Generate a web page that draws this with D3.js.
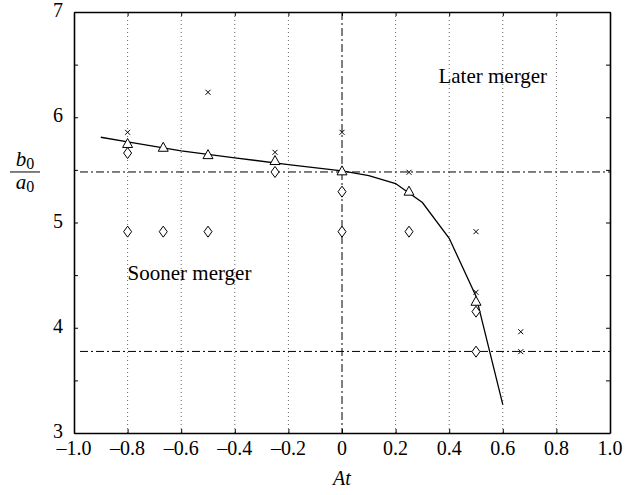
<!DOCTYPE html>
<html>
<head>
<meta charset="utf-8">
<script src="https://cdn.jsdelivr.net/npm/d3@7"></script>
<style>
  html, body { margin: 0; padding: 0; background: #fff; }
  svg { display: block; }
  svg text { font-family: "Liberation Serif", "Times New Roman", serif; fill: #000; }
</style>
</head>
<body>
<svg id="chart" width="628" height="495"></svg>
<script>
// Fitted merger boundary (solid curve)
const curveAt    = [-0.9, -0.8, -0.6, -0.4, -0.2, 0, 0.1, 0.2, 0.3, 0.4, 0.5, 0.6];
const curveRatio = [5.81, 5.765, 5.68, 5.615, 5.55, 5.49, 5.445, 5.37, 5.19, 4.85, 4.30, 3.27];

// Cross markers
const crossAt    = [-0.8, -0.5, -0.25, 0, 0.25, 0.5, 0.5, 0.667, 0.667];
const crossRatio = [5.857, 6.237, 5.667, 5.857, 5.477, 4.913, 4.337, 3.962, 3.773];

// Triangle markers
const triAt    = [-0.8, -0.667, -0.5, -0.25, 0, 0.25, 0.5];
const triRatio = [5.746, 5.71, 5.64, 5.584, 5.486, 5.293, 4.247];

// Diamond markers
const diaAt    = [-0.8, -0.8, -0.667, -0.5, -0.25, 0, 0, 0.25, 0.5, 0.5];
const diaRatio = [5.66, 4.913, 4.913, 4.913, 5.48, 5.293, 4.913, 4.913, 4.153, 3.773];

// Reference levels
const refRatios = [5.48, 3.775];
const refAt = [0];

// Axis ticks
const xTicks = [-1.0, -0.8, -0.6, -0.4, -0.2, 0, 0.2, 0.4, 0.6, 0.8, 1.0];
const xTickLabels = ["\u20131.0", "\u20130.8", "\u20130.6", "\u20130.4", "\u20130.2", "0", "0.2", "0.4", "0.6", "0.8", "1.0"];
const yTicks = [3, 3.5, 4, 4.5, 5, 5.5, 6, 6.5, 7];
const yTickLabels = ["3", "4", "5", "6", "7"];
const yLabelValues = [3, 4, 5, 6, 7];

const svg = d3.select("#chart");
const plotL = 74, plotR = 610, plotT = 12, plotB = 433;

const x = d3.scaleLinear().domain([-1, 1]).range([plotL, plotR]);
const y = d3.scaleLinear().domain([3, 7]).range([plotB, plotT]);

// Dotted vertical grid
const gridVals = xTicks.filter(v => v > -1 && v < 1 && v !== 0);
svg.append("g").selectAll("line").data(gridVals).join("line")
  .attr("x1", d => x(d)).attr("x2", d => x(d))
  .attr("y1", plotT).attr("y2", plotB)
  .attr("stroke", "#666").attr("stroke-width", 1)
  .attr("stroke-dasharray", "1,3");

// Dash-dot reference lines
const dashDot = "8,3,2,3";
svg.append("g").selectAll("line").data(refRatios).join("line")
  .attr("x1", plotL + 6).attr("x2", plotR)
  .attr("y1", d => y(d)).attr("y2", d => y(d))
  .attr("stroke", "#000").attr("stroke-width", 1)
  .attr("stroke-dasharray", dashDot);
svg.append("g").selectAll("line").data(refAt).join("line")
  .attr("x1", d => x(d)).attr("x2", d => x(d))
  .attr("y1", plotT).attr("y2", plotB)
  .attr("stroke", "#000").attr("stroke-width", 1)
  .attr("stroke-dasharray", dashDot);

// Axes with inward ticks
const xAxisB = d3.axisBottom(x).tickValues(xTicks).tickSizeInner(-4).tickSizeOuter(0).tickFormat("");
const xAxisT = d3.axisTop(x).tickValues(xTicks).tickSizeInner(-4).tickSizeOuter(0).tickFormat("");
const yAxisL = d3.axisLeft(y).tickValues(yTicks).tickSizeInner(-4).tickSizeOuter(0).tickFormat("");
const yAxisR = d3.axisRight(y).tickValues(yTicks).tickSizeInner(-4).tickSizeOuter(0).tickFormat("");

function styleAxis(g) {
  g.select(".domain").attr("stroke", "#000").attr("stroke-width", 1.6);
  g.selectAll(".tick line").attr("stroke", "#000").attr("stroke-width", 1);
}
svg.append("g").attr("transform", `translate(0,${plotB})`).call(xAxisB).call(styleAxis);
svg.append("g").attr("transform", `translate(0,${plotT})`).call(xAxisT).call(styleAxis);
svg.append("g").attr("transform", `translate(${plotL},0)`).call(yAxisL).call(styleAxis);
svg.append("g").attr("transform", `translate(${plotR},0)`).call(yAxisR).call(styleAxis);

// Tick labels
svg.append("g").selectAll("text").data(xTicks).join("text")
  .attr("x", d => x(d)).attr("y", plotB + 22)
  .attr("text-anchor", "middle").attr("font-size", 20)
  .text((d, i) => xTickLabels[i]);
svg.append("g").selectAll("text").data(yLabelValues).join("text")
  .attr("x", plotL - 11).attr("y", d => y(d) + 5)
  .attr("text-anchor", "end").attr("font-size", 20)
  .text((d, i) => yTickLabels[i]);

// Axis titles
svg.append("text").attr("x", x(0)).attr("y", 485)
  .attr("text-anchor", "middle").attr("font-size", 20).attr("font-style", "italic")
  .text("At");

const yl = svg.append("g").attr("transform", `translate(25,${y(5.48)})`);
const num = yl.append("text").attr("x", 0).attr("y", -6).attr("text-anchor", "middle").attr("font-size", 21);
num.append("tspan").attr("font-style", "italic").text("b");
num.append("tspan").attr("font-size", 16).attr("dy", 3).text("0");
yl.append("line").attr("x1", -15).attr("x2", 15).attr("y1", 0).attr("y2", 0)
  .attr("stroke", "#000").attr("stroke-width", 1);
const den = yl.append("text").attr("x", 0).attr("y", 17).attr("text-anchor", "middle").attr("font-size", 21);
den.append("tspan").attr("font-style", "italic").text("a");
den.append("tspan").attr("font-size", 16).attr("dy", 3).text("0");

// Region annotations
svg.append("text").attr("x", x(0.36)).attr("y", y(6.325)).attr("font-size", 21).text("Later merger");
svg.append("text").attr("x", x(-0.8)).attr("y", y(4.45)).attr("font-size", 21).text("Sooner merger");

// Boundary curve
const curve = d3.line().x(d => x(d[0])).y(d => y(d[1]));
svg.append("path").datum(d3.zip(curveAt, curveRatio))
  .attr("d", curve).attr("fill", "none")
  .attr("stroke", "#000").attr("stroke-width", 1.3);

// Markers
const markers = svg.append("g").attr("fill", "none").attr("stroke", "#000").attr("stroke-width", 1);

markers.selectAll(".tri").data(d3.zip(triAt, triRatio)).join("path")
  .attr("class", "tri")
  .attr("transform", d => `translate(${x(d[0])},${y(d[1])})`)
  .attr("d", "M0,-5.5L5,3.5L-5,3.5Z")
  .attr("fill", "#fff");

markers.selectAll(".dia").data(d3.zip(diaAt, diaRatio)).join("path")
  .attr("class", "dia")
  .attr("transform", d => `translate(${x(d[0])},${y(d[1])})`)
  .attr("d", "M0,-5.5L4,0L0,5.5L-4,0Z")
  .attr("fill", "#fff");

markers.selectAll(".cross").data(d3.zip(crossAt, crossRatio)).join("path")
  .attr("class", "cross")
  .attr("transform", d => `translate(${x(d[0])},${y(d[1])})`)
  .attr("d", "M-2.5,-2.5L2.5,2.5M-2.5,2.5L2.5,-2.5");
</script>
</body>
</html>
